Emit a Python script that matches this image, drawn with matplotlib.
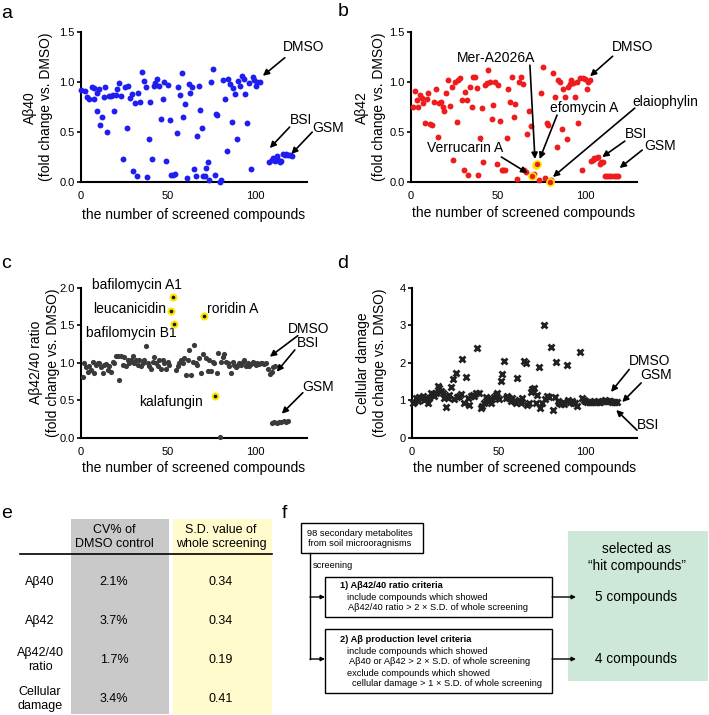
import numpy as np
import matplotlib.pyplot as plt
from matplotlib.patches import Rectangle

plt.rcParams['font.family'] = ['Liberation Sans', 'DejaVu Sans']

# ---- a: Abeta40 ----
a_x = [0, 2.3, 3.6, 4.8, 6.1, 7.5, 7.7, 9.0, 9.4, 10.3,
       11.1, 12.3, 13.4, 14.0, 15.1, 16.1, 17.4, 18.4, 19.2, 19.9,
       20.9, 21.8, 23.0, 24.1, 25.3, 26.2, 27.2, 27.9, 29.1, 30.1,
       31.0, 32.0, 33.0, 33.7, 34.9, 36.0, 37.2, 37.9, 39.1, 39.8,
       40.8, 41.8, 42.7, 43.7, 44.6, 46.0, 46.9, 47.9, 48.9, 49.8,
       51.0, 51.9, 52.9, 53.8, 55.0, 55.9, 57.1, 58.0, 58.6, 60.0,
       60.9, 61.9, 62.8, 64.0, 64.9, 65.9, 66.7, 67.8, 68.6, 69.5,
       70.3, 71.1, 71.8, 72.8, 73.6, 74.5, 75.7, 76.8, 77.6, 78.5,
       79.7, 80.7, 81.4, 82.6, 83.7, 84.7, 85.6, 86.6, 87.5, 88.5,
       89.5, 90.4, 91.6, 92.7, 93.5, 94.6, 95.6, 96.7, 97.7, 98.7,
       99.6, 100.6, 101.5, 102.7]
a_y = [.92, .91, .85, .83, .95, .94, .83, .71, .89, .93,
       .57, .65, .85, .95, .50, .86, .86, .87, .71, .87,
       .93, .99, .86, .23, .95, .54, .96, .84, .88, .11,
       .79, .06, .89, .80, 1.10, 1.01, .95, .05, .43, .80,
       .23, .96, .99, 1.03, .96, .63, .83, 1.00, .21, .97,
       .62, .07, .07, .08, .49, .95, .87, 1.09, .65, .78,
       .04, .98, .89, .95, .13, .06, .46, .96, .72, .54,
       .06, .06, .14, .20, .02, 1.00, 1.13, .07, .68, .67,
       0.0, .02, 1.02, .83, .31, 1.03, .98, .60, .94, .88,
       .43, 1.01, .96, 1.06, 1.03, .88, .59, .99, .13, 1.05,
       1.02, .96, 1.00, 1.00]
a_ctrl_x = [108.2, 109.6, 110.5, 111.5, 112.5, 113.4, 114.4, 115.3, 116.3, 117.2,
            118.2, 119.2, 120.1, 121.1]
a_ctrl_y = [.20, .22, .24, .21, .26, .22, .20, .21, .28, .27, .28, .27, .27, .26]

# ---- b: Abeta42 ----
b_x = [1.0, 2.3, 3.3, 4.2, 5.2, 6.1, 7.0, 8.0, 9.0, 10.0,
       10.9, 12.3, 13.2, 14.2, 15.3, 16.3, 17.2, 18.2, 19.2, 20.1,
       21.3, 22.2, 23.4, 24.3, 25.3, 26.2, 27.2, 28.4, 29.1, 30.3,
       31.0, 32.0, 33.0, 33.9, 34.9, 35.8, 36.8, 37.7, 38.7, 39.7,
       40.6, 41.6, 42.5, 43.5, 44.4, 45.4, 46.4, 47.3, 48.3, 49.2,
       50.2, 51.1, 52.1, 53.1, 54.0, 55.0, 56.0, 56.9, 57.9, 59.0,
       60.0, 61.1, 62.1, 63.0, 64.2, 65.1, 66.1, 67.0, 67.8, 68.8,
       69.7, 70.9, 71.8, 72.6, 73.6, 74.7, 76.1, 77.0, 78.0, 78.9,
       79.9, 80.8, 81.8, 82.8, 83.7, 84.7, 85.6, 86.6, 87.5, 88.5,
       89.5, 90.4, 91.4, 92.3, 93.3, 94.3, 95.4, 96.2, 97.1, 98.1,
       99.0, 100.0, 101.0, 101.9, 103.1]
b_y = [.75, .91, .82, .75, .87, .84, .79, .59, .83, .89,
       .58, .57, .80, .93, .45, .79, .80, .75, .71, .89,
       1.02, .76, .95, .22, 1.00, .60, 1.02, 1.04, .82, .12,
       .90, .82, .07, .95, .75, 1.05, 1.05, .94, .07, .44,
       .74, .20, .97, .99, 1.12, 1.00, .63, .77, 1.00, .18,
       .97, .61, .12, .12, .12, .44, .93, .80, 1.05, .65,
       .78, .03, 1.00, 1.05, .98, .12, .10, .48, .71, .56,
       .06, .08, .17, .18, .02, .89, 1.15, .04, .59, .57,
       0.0, .02, 1.09, .85, .35, 1.02, 1.00, .53, .93, .85,
       .43, .95, .98, 1.02, .99, .85, 1.00, .59, 1.04, .12,
       1.04, 1.03, .93, 1.00, 1.02]
b_hits = [70, 72, 73, 80]
b_bsi_x = [103.5, 104.5, 105.5, 106.5, 107.5, 108.5, 109.5, 110.5]
b_bsi_y = [.21, .22, .24, .24, .25, .18, .20, .20]
b_gsm_x = [111.5, 112.8, 114.0, 115.3, 116.5, 117.8, 119.0]
b_gsm_y = [.06, .06, .06, .06, .06, .06, .06]

# ---- c: Abeta42/40 ratio ----
c_x = [1.0, 1.7, 2.9, 3.8, 4.8, 5.7, 6.7, 7.7, 8.6, 9.6,
       10.5, 11.5, 12.5, 13.4, 14.4, 15.3, 16.3, 17.2, 18.2, 19.2,
       20.1, 21.1, 22.0, 23.0, 23.9, 24.9, 25.9, 26.8, 27.8, 28.7,
       29.7, 30.7, 31.6, 32.6, 33.5, 34.5, 35.4, 36.4, 37.4, 38.3,
       39.3, 40.2, 41.2, 42.1, 43.1, 44.1, 45.0, 46.0, 46.9, 47.9,
       48.9, 49.8, 50.8, 51.7, 52.7, 53.6, 54.6, 55.6, 56.5, 57.5,
       58.4, 59.4, 60.3, 61.3, 62.3, 63.2, 64.2, 65.1, 66.1, 67.0,
       68.0, 69.0, 69.9, 70.9, 71.8, 72.8, 73.8, 74.7, 75.7, 76.6,
       77.0, 78.0, 78.9, 79.9, 80.5, 81.4, 82.4, 83.3, 84.3, 85.2,
       86.2, 87.2, 88.1, 89.1, 90.0, 91.0, 92.0, 92.9, 93.9, 94.8,
       95.8, 96.7, 97.7, 98.7, 99.6, 100.6, 101.5, 102.5, 103.4, 104.4,
       105.4, 106.3]
c_y = [.81, 1.00, .94, .88, .95, .90, 1.01, .86, .97, .99,
       1.00, .94, .86, .97, .98, .90, .95, .87, 1.01, .99,
       1.09, 1.09, .77, 1.09, .97, 1.07, .96, 1.04, 1.00, 1.03,
       1.09, 1.00, 1.04, .97, 1.04, .95, .99, 1.04, 1.22, 1.00,
       .96, .91, 1.01, 1.08, 1.00, .96, 1.03, .92, 1.04, 1.00,
       .92, 1.01, .97, 1.69, 1.87, 1.52, .90, .95, .99, 1.03,
       1.00, 1.06, .84, 1.03, 1.17, .84, 1.01, 1.24, .99, .97,
       1.06, .86, 1.12, 1.62, 1.06, .89, 1.04, .89, 1.01, .99,
       .56, .86, 1.13, .01, 1.01, 1.08, 1.12, 1.01, .99, .95,
       .86, 1.01, .97, .94, .96, .99, .97, 1.01, 1.04, .96,
       1.00, .95, .98, 1.01, .99, .97, 1.00, .98, .99, 1.00,
       .98, .99]
c_hits = [53, 54, 55, 73, 80]
c_bsi_x = [107.7, 108.6, 109.6, 110.5, 111.5]
c_bsi_y = [.91, .85, .88, .94, .96]
c_gsm_x = [110.0, 111.3, 112.6, 113.9, 115.2, 116.5, 117.8, 119.0]
c_gsm_y = [.20, .21, .20, .21, .21, .22, .21, .22]

# ---- d: cellular damage ----
d_x = [0.6, 1.5, 2.5, 3.4, 4.4, 5.4, 6.3, 7.3, 8.2, 9.2,
       10.2, 11.1, 12.1, 13.0, 14.0, 14.9, 15.9, 16.9, 17.8, 18.8,
       19.7, 20.7, 21.6, 22.6, 23.6, 24.5, 25.5, 26.4, 27.4, 28.4,
       29.3, 30.3, 31.2, 32.2, 33.1, 34.1, 35.1, 36.0, 37.0, 37.9,
       38.9, 39.8, 40.8, 41.8, 42.7, 43.7, 44.6, 45.6, 46.6, 47.5,
       48.5, 49.4, 50.4, 51.3, 52.3, 53.3, 54.2, 55.2, 56.1, 57.1,
       58.0, 59.0, 60.0, 60.9, 61.9, 62.8, 63.8, 64.8, 65.7, 66.7,
       67.6, 68.6, 69.5, 70.5, 71.5, 72.4, 73.4, 74.3, 75.3, 76.2,
       77.2, 78.2, 79.1, 80.5, 81.4, 82.4, 83.3, 84.3, 85.2, 86.2,
       87.2, 88.1, 89.5, 90.4, 91.4, 92.3, 93.3, 94.3, 95.2, 97.3]
d_y = [.92, .96, 1.05, .99, 1.09, 1.05, 1.11, 1.00, 1.05, .93,
       1.05, 1.20, 1.16, 1.11, 1.20, 1.38, 1.32, 1.25, 1.20, 1.05,
       .81, 1.05, 1.14, 1.34, 1.56, 1.02, 1.73, 1.08, 1.11, 1.16,
       2.09, .93, 1.63, 1.05, .87, 1.11, 1.14, 1.11, 1.18, 2.38,
       1.18, .78, .84, .93, 1.08, 1.02, .99, .92, 1.02, 1.08,
       1.14, 1.20, 1.02, 1.52, 1.70, 2.05, 1.05, 1.11, 1.05, .99,
       1.05, .99, .93, 1.58, 1.00, .92, 1.05, 2.05, 1.98, .87,
       .93, 1.23, 1.29, 1.32, .93, 1.14, 1.88, .78, .93, 3.00,
       1.02, 1.11, 1.09, 2.41, .74, 1.08, 2.03, .99, .92, .90,
       .96, .90, 1.94, 1.00, .96, .99, .92, .93, .84, 2.29]
d_ctrl_x = [98.3, 99.2, 100.2, 101.1, 102.1, 103.1, 104.0, 105.0, 106.0, 106.9,
            107.9, 108.8, 109.8, 110.7, 111.7, 112.6, 113.6, 114.6, 115.5, 116.5,
            117.4, 118.4]
d_ctrl_y = [1.05, 1.00, .99, .96, .96, .96, .96, .98, .96, .96,
            .96, .96, .99, .99, 1.00, .99, .99, .99, .96, .96,
            .96, .96]

# ---- e: table ----
e_cols = ['CV% of\nDMSO control', 'S.D. value of\nwhole screening']
e_rows = ['A\u03b240', 'A\u03b242', 'A\u03b242/40\nratio', 'Cellular\ndamage']
e_cv = ['2.1%', '3.7%', '1.7%', '3.4%']
e_sd = ['0.34', '0.34', '0.19', '0.41']

W, H = 709, 715
fig = plt.figure(figsize=(7.09, 7.15), dpi=100)

ov = fig.add_axes([0, 0, 1, 1])
ov.set_xlim(0, W)
ov.set_ylim(H, 0)
ov.axis('off')


def px_axes(x0, y0, x1, y1):
    return fig.add_axes([x0 / W, 1 - y1 / H, (x1 - x0) / W, (y1 - y0) / H])


def style(ax, ymax, yticks, ylabel, ylab_x, xlab_y):
    ax.set_xlim(0, 130)
    ax.set_ylim(0, ymax)
    ax.spines['top'].set_visible(False)
    ax.spines['right'].set_visible(False)
    ax.spines['left'].set_linewidth(1.5)
    ax.spines['bottom'].set_linewidth(1.5)
    ax.set_xticks([0, 50, 100])
    ax.set_yticks(yticks)
    ax.tick_params(axis='y', length=3, width=1.2, labelsize=8, pad=1.5)
    ax.tick_params(axis='x', length=0, labelsize=8, pad=6.5)
    ax.set_xlabel('the number of screened compounds', fontsize=10, va='center')
    ax.xaxis.set_label_coords(0.5, xlab_y)
    ax.set_ylabel(ylabel, fontsize=10, linespacing=1.25, va='center')
    ax.yaxis.set_label_coords(ylab_x, 0.5)
    ax.set_facecolor('none')


def arrow(ax, tail, tip):
    ax.annotate('', xy=tip, xytext=tail, annotation_clip=False,
                arrowprops=dict(arrowstyle='-|>', color='black', lw=1.2,
                                mutation_scale=9, shrinkA=0, shrinkB=0))


def label(ax, x, y, s, ha='left'):
    ax.text(x, y, s, ha=ha, va='center', fontsize=10, clip_on=False)


# a
ax = px_axes(81, 32.3, 307, 182)
style(ax, 1.5, [0, 0.5, 1.0, 1.5], 'A\u03b240\n(fold change vs. DMSO)', -0.19, -0.22)
ax.scatter(a_x, a_y, s=18, color='#1e1ef0', lw=0, clip_on=False, zorder=3)
ax.scatter(a_ctrl_x, a_ctrl_y, s=18, color='#1e1ef0', lw=0, clip_on=False, zorder=3)
label(ax, 116, 1.35, 'DMSO')
arrow(ax, (117.2, 1.245), (104.6, 1.064))
label(ax, 120, 0.62, 'BSI')
arrow(ax, (120, 0.55), (108.6, 0.34))
label(ax, 133, 0.54, 'GSM')
arrow(ax, (133, 0.50), (121, 0.28))

# b
ax = px_axes(411, 32.3, 637, 182)
style(ax, 1.5, [0, 0.5, 1.0, 1.5], 'A\u03b242\n(fold change vs. DMSO)', -0.18, -0.21)
ax.scatter(b_x, b_y, s=18, color='#ee1c1c', lw=0, clip_on=False, zorder=3)
ax.scatter([b_x[i] for i in b_hits], [b_y[i] for i in b_hits], s=26,
           color='#ee1c1c', edgecolor='#ffe600', lw=1.2, clip_on=False, zorder=4)
ax.scatter(b_bsi_x, b_bsi_y, s=18, color='#ee1c1c', lw=0, zorder=3)
ax.scatter(b_gsm_x, b_gsm_y, s=18, color='#ee1c1c', lw=0, zorder=3)
label(ax, 115.5, 1.35, 'DMSO')
arrow(ax, (116, 1.26), (103, 1.06))
label(ax, 48.7, 1.24, 'Mer-A2026A', ha='center')
arrow(ax, (68.4, 1.17), (71.3, 0.23))
label(ax, 80, 0.74, 'efomycin A')
arrow(ax, (84, 0.67), (74, 0.23))
label(ax, 127.5, 0.80, 'elaiophylin')
arrow(ax, (128.7, 0.74), (81.6, 0.05))
label(ax, 31, 0.34, 'Verrucarin A', ha='center')
arrow(ax, (52, 0.25), (67, 0.09))
label(ax, 123, 0.48, 'BSI')
arrow(ax, (123, 0.41), (110, 0.25))
label(ax, 134, 0.36, 'GSM')
arrow(ax, (133, 0.32), (120, 0.14))

# c
ax = px_axes(81, 287.7, 307, 437.7)
style(ax, 2.0, [0, 0.5, 1.0, 1.5, 2.0], 'A\u03b242/40 ratio\n(fold change vs. DMSO)', -0.16, -0.20)
ax.scatter(c_x, c_y, s=14, color='#3a3a3a', lw=0, clip_on=False, zorder=3)
ax.scatter([c_x[i] for i in c_hits], [c_y[i] for i in c_hits], s=34,
           color='#ffe600', lw=0, zorder=4)
ax.scatter([c_x[i] for i in c_hits], [c_y[i] for i in c_hits], s=7,
           color='#1a1a1a', lw=0, zorder=5)
ax.scatter(c_bsi_x, c_bsi_y, s=14, color='#3a3a3a', lw=0, zorder=3)
ax.scatter(c_gsm_x, c_gsm_y, s=14, color='#3a3a3a', lw=0, zorder=3)
label(ax, 6.1, 2.04, 'bafilomycin A1')
label(ax, 7.0, 1.71, 'leucanicidin')
label(ax, 2.9, 1.40, 'bafilomycin B1')
label(ax, 72.5, 1.71, 'roridin A')
label(ax, 70.3, 0.48, 'kalafungin', ha='right')
label(ax, 119, 1.45, 'DMSO')
arrow(ax, (124.7, 1.36), (108.6, 1.08))
label(ax, 124, 1.26, 'BSI')
arrow(ax, (123, 1.17), (112.6, 0.88))
label(ax, 127, 0.68, 'GSM')
arrow(ax, (127.6, 0.60), (115.5, 0.32))

# d
ax = px_axes(411.7, 287.7, 637, 437.7)
style(ax, 4, [0, 1, 2, 3, 4], 'Cellular damage\n(fold change vs. DMSO)', -0.18, -0.20)
ax.plot(d_x, d_y, ls='none', marker='x', ms=4.5, mew=2, color='#222222', clip_on=False, zorder=3)
ax.plot(d_ctrl_x, d_ctrl_y, ls='none', marker='x', ms=4.5, mew=2, color='#222222', zorder=3)
label(ax, 125.5, 2.04, 'DMSO')
arrow(ax, (125.5, 1.82), (115, 1.22))
label(ax, 132, 1.66, 'GSM')
arrow(ax, (132.4, 1.46), (121.5, 0.95))
label(ax, 130, 0.34, 'BSI')
arrow(ax, (130, 0.20), (118, 0.74))

# panel letters
for x, y, s in [(1, 13, 'a'), (338, 12, 'b'), (1, 263, 'c'), (337, 263, 'd'),
                (1, 513, 'e'), (282, 513, 'f')]:
    ov.text(x, y, s, fontsize=14, ha='left', va='center')

# e table
ov.add_patch(Rectangle((71, 519), 98, 195, color='#c9c9c9', lw=0))
ov.add_patch(Rectangle((173, 519), 99, 195, color='#fffbcc', lw=0))
ov.plot([20, 272], [554, 554], color='black', lw=1.2)
for cx, s in zip([114, 221], e_cols):
    ov.text(cx, 537, s, ha='center', va='center', fontsize=9, linespacing=1.2)
row_y = [582, 621, 660, 699]
for ry, rl, cv, sd in zip(row_y, e_rows, e_cv, e_sd):
    ov.text(40, ry, rl, ha='center', va='center', fontsize=9, linespacing=1.25)
    ov.text(114, ry, cv, ha='center', va='center', fontsize=9)
    ov.text(221, ry, sd, ha='center', va='center', fontsize=9)


# f flow chart
def small_arrow(x0, x1, y):
    ov.annotate('', xy=(x1, y), xytext=(x0, y),
                arrowprops=dict(arrowstyle='-|>', color='black', lw=1.0,
                                mutation_scale=6, shrinkA=0, shrinkB=0))


fs = 6.7
ov.add_patch(Rectangle((301, 523), 122, 30, fill=False, ec='black', lw=1.0))
ov.text(360, 533, '98 secondary metabolites', ha='center', va='center', fontsize=fs)
ov.text(360, 544, 'from soil microoragnisms', ha='center', va='center', fontsize=fs)
ov.plot([310, 310], [553, 659], color='black', lw=1.0)
ov.text(313, 565, 'screening', ha='left', va='center', fontsize=fs)
small_arrow(310, 325, 597)
small_arrow(310, 325, 659)

ov.add_patch(Rectangle((325, 577), 227, 40, fill=False, ec='black', lw=1.0))
ov.text(340, 586, '1) A\u03b242/40 ratio criteria', ha='left', va='center',
        fontsize=fs, fontweight='bold')
ov.text(347, 597, 'include compounds which showed', ha='left', va='center', fontsize=fs)
ov.text(348, 608, 'A\u03b242/40 ratio > 2 \u00d7 S.D. of whole screening', ha='left',
        va='center', fontsize=fs)

ov.add_patch(Rectangle((325, 629), 227, 64, fill=False, ec='black', lw=1.0))
ov.text(340, 639, '2) A\u03b2 production level criteria', ha='left', va='center',
        fontsize=fs, fontweight='bold')
ov.text(347, 651, 'include compounds which showed', ha='left', va='center', fontsize=fs)
ov.text(349, 662, 'A\u03b240 or A\u03b242 > 2 \u00d7 S.D. of whole screening', ha='left',
        va='center', fontsize=fs)
ov.text(347, 673, 'exclude compounds which showed', ha='left', va='center', fontsize=fs)
ov.text(352, 684, 'cellular damage > 1 \u00d7 S.D. of whole screening', ha='left',
        va='center', fontsize=fs)

small_arrow(552, 576, 597)
small_arrow(552, 576, 659)
ov.add_patch(Rectangle((568, 531), 140, 150, color='#cde8d9', lw=0, zorder=0))
ov.text(637, 549, 'selected as', ha='center', va='center', fontsize=9.8)
ov.text(637, 566, '\u201chit compounds\u201d', ha='center', va='center', fontsize=9.8)
ov.text(636, 597, '5 compounds', ha='center', va='center', fontsize=9.8)
ov.text(636, 659, '4 compounds', ha='center', va='center', fontsize=9.8)

fig.savefig('out.png', dpi=100)
